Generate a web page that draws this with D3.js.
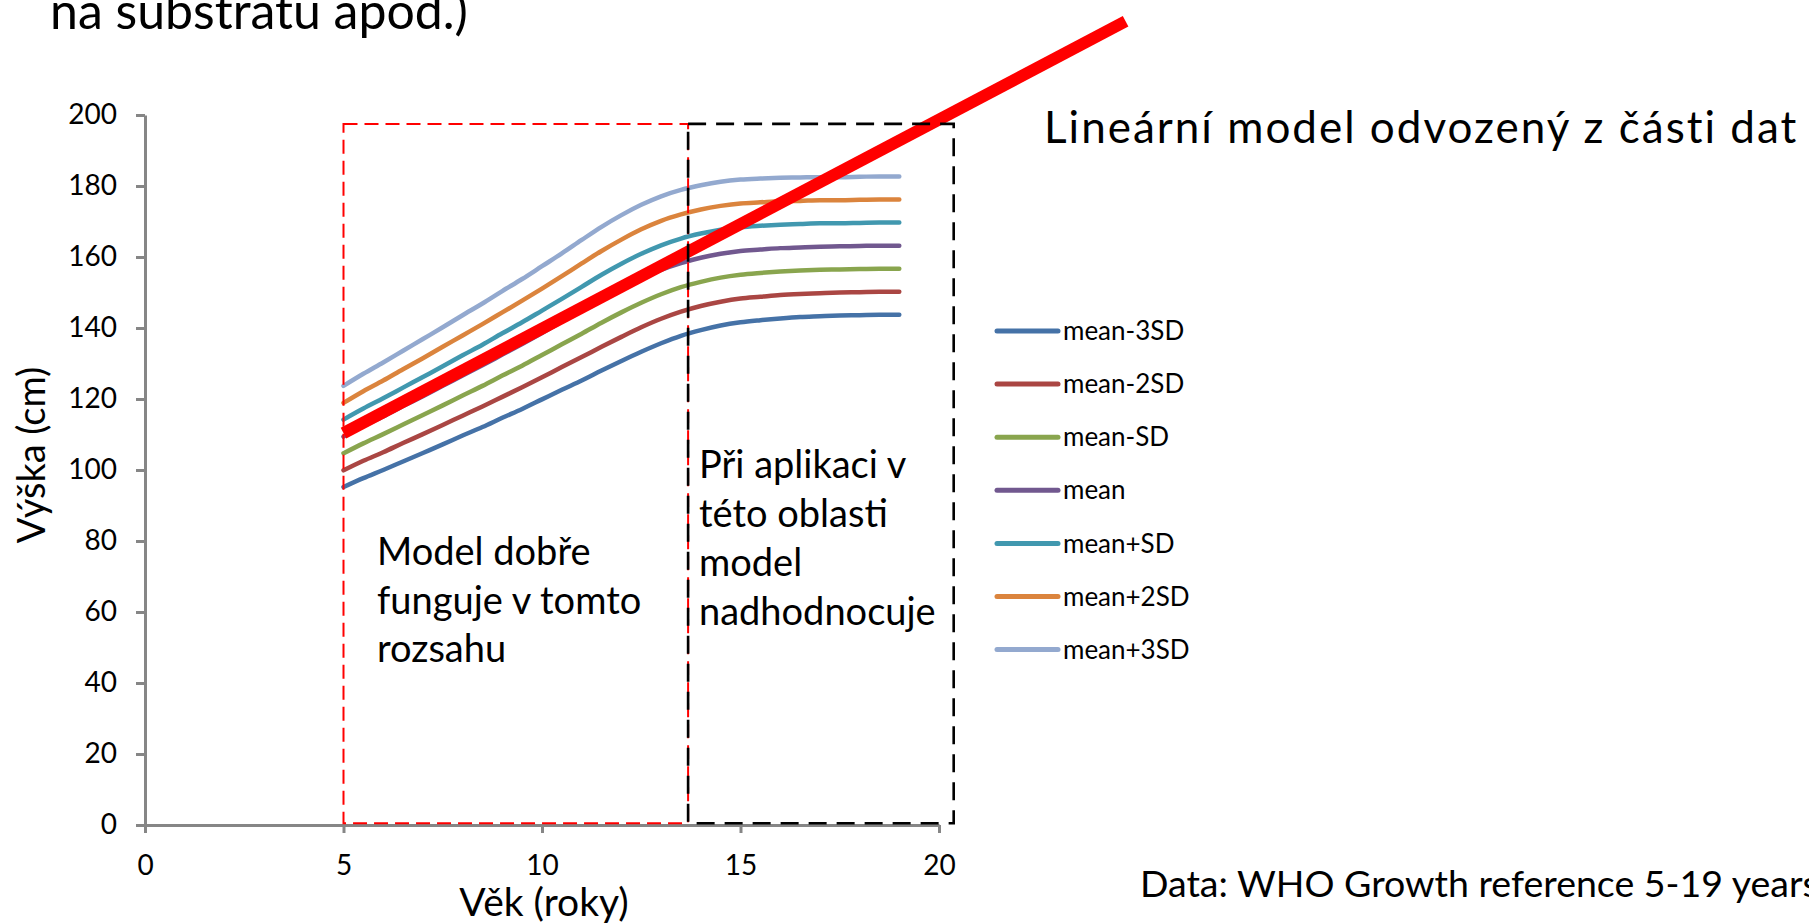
<!DOCTYPE html>
<html lang="cs">
<head>
    <meta charset="UTF-8">
    <title>Výška podle věku - lineární model</title>
    <script src="https://d3js.org/d3.v7.min.js"></script>
</head>

<style>
    body {
        margin: 0;
        background: #fff;
    }

    svg {
        display: block;
        font-family: Lato, "Open Sans", sans-serif;
    }

    .axis path,
    .axis line {
        stroke: #868686;
        stroke-width: 3px;
    }

    .axis text {
        font-family: Lato, "Open Sans", sans-serif;
        font-size: 28px;
        fill: #000;
    }
</style>

<body>
<div class="chart-container"></div>

<script>
  /** DATA: WHO growth reference 5-19 years (height-for-age) */
  var ages = [5, 5.5, 6, 6.5, 7, 7.5, 8, 8.5, 9, 9.5, 10, 10.5, 11, 11.5, 12,
    12.5, 13, 13.5, 14, 14.5, 15, 15.5, 16, 16.5, 17, 17.5, 18, 18.5, 19];

  var meanMinus3SD = [95.2, 97.7, 100.0, 102.4, 104.8, 107.2, 109.7, 112.1, 114.7, 117.2, 119.9, 122.6, 125.2, 128.0, 130.7,
    133.3, 135.7, 137.8, 139.4, 140.7, 141.6, 142.2, 142.7, 143.1, 143.3, 143.5, 143.6, 143.7, 143.7];
  var meanMinus2SD = [99.9, 102.6, 105.0, 107.6, 110.1, 112.7, 115.3, 117.9, 120.6, 123.3, 126.1, 129.0, 131.8, 134.7, 137.5,
    140.2, 142.6, 144.6, 146.2, 147.4, 148.3, 148.8, 149.3, 149.6, 149.8, 150.0, 150.1, 150.2, 150.2];
  var meanMinusSD = [104.7, 107.5, 110.1, 112.8, 115.5, 118.2, 121.0, 123.7, 126.6, 129.4, 132.4, 135.4, 138.4, 141.5, 144.4,
    147.1, 149.5, 151.5, 153.0, 154.2, 155.0, 155.5, 155.9, 156.2, 156.4, 156.5, 156.6, 156.7, 156.7];
  var meanHeight = [109.4, 112.4, 115.1, 118.0, 120.8, 123.7, 126.6, 129.5, 132.5, 135.5, 138.6, 141.8, 145.0, 148.2, 151.2,
    154.0, 156.4, 158.3, 159.8, 160.9, 161.7, 162.1, 162.5, 162.7, 162.9, 163.0, 163.1, 163.2, 163.2];
  var meanPlusSD = [114.2, 117.3, 120.2, 123.2, 126.2, 129.2, 132.3, 135.3, 138.5, 141.6, 144.9, 148.2, 151.6, 155.0, 158.1,
    160.9, 163.3, 165.2, 166.6, 167.7, 168.4, 168.8, 169.1, 169.3, 169.5, 169.5, 169.6, 169.7, 169.7];
  var meanPlus2SD = [118.9, 122.2, 125.2, 128.4, 131.5, 134.7, 137.9, 141.1, 144.4, 147.7, 151.1, 154.6, 158.2, 161.7, 164.9,
    167.8, 170.2, 172.0, 173.4, 174.4, 175.1, 175.4, 175.7, 175.8, 176.0, 176.0, 176.1, 176.2, 176.2];
  var meanPlus3SD = [123.7, 127.1, 130.3, 133.6, 136.9, 140.2, 143.6, 146.9, 150.4, 153.8, 157.4, 161.0, 164.8, 168.5, 171.8,
    174.7, 177.1, 178.9, 180.2, 181.2, 181.8, 182.1, 182.3, 182.4, 182.5, 182.5, 182.6, 182.7, 182.7];

  var seriesNames = ['mean-3SD', 'mean-2SD', 'mean-SD', 'mean', 'mean+SD', 'mean+2SD', 'mean+3SD'];
  var seriesValues = [meanMinus3SD, meanMinus2SD, meanMinusSD, meanHeight, meanPlusSD, meanPlus2SD, meanPlus3SD];
  var seriesColors = ['#4572A7', '#AA4643', '#89A54E', '#71588F', '#4198AF', '#DB843D', '#93A9CF'];

  /** linear model fitted on part of the data (start and end point of the red line) */
  var modelAges = [5, 24.7];
  var modelHeights = [110.4, 226.4];

  /** highlighted ranges of age: where the model works / where it overestimates */
  var rangeFrom = [5, 13.68];
  var rangeTo = [13.68, 20.37];
  var rangeTop = 197.5;
  var rangeColors = ['#ff0000', '#000000'];

  var xTicks = [0, 5, 10, 15, 20];
  var yTicks = [0, 20, 40, 60, 80, 100, 120, 140, 160, 180, 200];

  /** LAYOUT */
  var width = 1809;
  var height = 924;
  var plotLeft = 145, plotRight = 939, plotTop = 115, plotBottom = 825;

  var svg = d3.select('.chart-container')
    .append('svg')
    .attr('width', width)
    .attr('height', height);

  var x = d3.scaleLinear().domain([0, 20]).range([plotLeft, plotRight]);
  var y = d3.scaleLinear().domain([0, 200]).range([plotBottom, plotTop]);

  /** AXES */
  svg.append('g')
    .attr('class', 'axis')
    .attr('transform', 'translate(' + plotLeft + ',0)')
    .call(d3.axisLeft(y).tickValues(yTicks).tickSize(9).tickSizeOuter(0).tickPadding(19));

  svg.append('g')
    .attr('class', 'axis')
    .attr('transform', 'translate(0,' + plotBottom + ')')
    .call(d3.axisBottom(x).tickValues(xTicks).tickSize(8).tickSizeOuter(0).tickPadding(22));

  // d3 puts font-family="sans-serif" on the axis groups, drop it
  svg.selectAll('.axis').attr('font-family', null);

  /** GROWTH CURVES */
  var line = d3.line()
    .x(function (d) { return x(d[0]); })
    .y(function (d) { return y(d[1]); })
    .curve(d3.curveMonotoneX);

  svg.append('g')
    .selectAll('path')
    .data(seriesValues)
    .enter().append('path')
    .attr('fill', 'none')
    .attr('stroke', function (_, i) { return seriesColors[i]; })
    .attr('stroke-width', 4.5)
    .attr('stroke-linecap', 'round')
    .attr('d', function (values) {
      return line(values.map(function (v, i) { return [ages[i], v]; }));
    });

  /** RED LINE: linear model */
  svg.append('path')
    .attr('fill', 'none')
    .attr('stroke', '#ff0000')
    .attr('stroke-width', 12)
    .attr('d', d3.line()(modelAges.map(function (a, i) {
      return [x(a), y(modelHeights[i])];
    })));

  /** DASHED RANGES */
  svg.append('g')
    .selectAll('rect')
    .data(rangeFrom)
    .enter().append('rect')
    .attr('x', function (d) { return x(d); })
    .attr('y', y(rangeTop))
    .attr('width', function (d, i) { return x(rangeTo[i]) - x(d); })
    .attr('height', y(0.5) - y(rangeTop))
    .attr('fill', 'none')
    .attr('stroke', function (_, i) { return rangeColors[i]; })
    .attr('stroke-width', function (_, i) { return i === 0 ? 2 : 2.6; })
    .attr('stroke-dasharray', function (_, i) { return i === 0 ? '14,7' : '18,10'; });

  /** LEGEND */
  var legend = svg.append('g')
    .attr('transform', 'translate(997,331)');

  var legendItem = legend.selectAll('g')
    .data(seriesNames)
    .enter().append('g')
    .attr('transform', function (_, i) { return 'translate(0,' + (i * 53.1) + ')'; });

  legendItem.append('line')
    .attr('x1', 0)
    .attr('x2', 61)
    .attr('stroke', function (_, i) { return seriesColors[i]; })
    .attr('stroke-width', 5)
    .attr('stroke-linecap', 'round');

  legendItem.append('text')
    .attr('x', 66)
    .attr('dy', '0.35em')
    .style('font-size', '26px')
    .text(function (d) { return d; });

  /** AXIS TITLES */
  svg.append('text')
    .attr('transform', 'translate(45,455) rotate(-90)')
    .style('text-anchor', 'middle')
    .style('font-size', '38px')
    .text('Výška (cm)');

  svg.append('text')
    .attr('x', 544)
    .attr('y', 916)
    .style('text-anchor', 'middle')
    .style('font-size', '39px')
    .text('Věk (roky)');

  /** ANNOTATIONS */
  function multiline(lines, left, top, step, size, spacing) {
    var t = svg.append('text')
      .attr('x', left)
      .attr('y', top)
      .style('font-size', size + 'px')
      .style('letter-spacing', (spacing || 0) + 'px');
    t.selectAll('tspan')
      .data(lines)
      .enter().append('tspan')
      .attr('x', left)
      .attr('y', function (_, i) { return top + i * step; })
      .text(function (d) { return d; });
  }

  multiline(['na substratu apod.)'], 50, 29, 0, 50);
  multiline(['Lineární model odvozený z části dat'], 1044, 143, 0, 44, 2);
  multiline(['Model dobře', 'funguje v tomto', 'rozsahu'], 377, 565, 48.5, 38);
  multiline(['Při aplikaci v', 'této oblasti', 'model', 'nadhodnocuje'], 699, 478, 49, 38);
  multiline(['Data: WHO Growth reference 5-19 years'], 1140, 897, 0, 37.5);
</script>
</body>
</html>
